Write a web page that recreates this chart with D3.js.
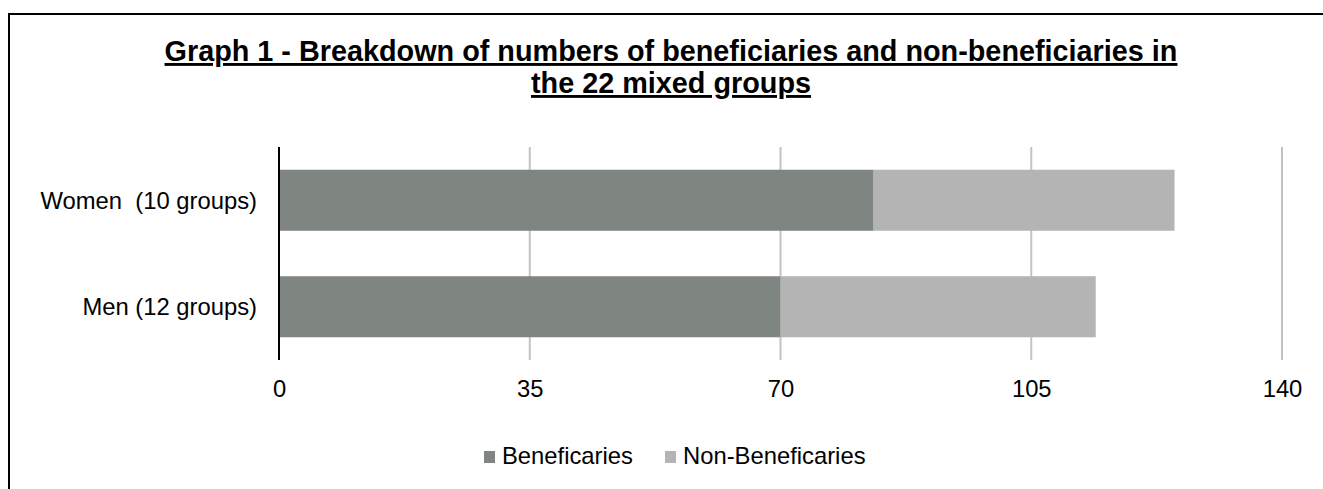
<!DOCTYPE html>
<html>
<head>
<meta charset="utf-8">
<script src="https://cdn.jsdelivr.net/npm/d3@7"></script>
<style>
  html, body { margin: 0; padding: 0; background: #ffffff; }
  svg { display: block; }
  text { font-family: "Liberation Sans", Arial, sans-serif; fill: #000; }
</style>
</head>
<body>
<svg id="chart" width="1323" height="489"></svg>
<script>
// Chart data
const titleLines = [
  "Graph 1 - Breakdown of numbers of beneficiaries and non-beneficiaries in",
  "the 22 mixed groups"
];
const categories = ["Women  (10 groups)", "Men (12 groups)"];
const seriesNames = ["Beneficaries", "Non-Beneficaries"];
const beneficiaries = [83, 70];
const nonBeneficiaries = [42, 44];
const tickValues = [0, 35, 70, 105, 140];
const seriesColors = ["#7f8682", "#b4b4b4"];

const svg = d3.select("#chart");
const W = 1323, H = 489;
const labelFont = "23.8px";

// Frame around the chart area
svg.append("rect")
  .attr("x", 9).attr("y", 14)
  .attr("width", W + 20).attr("height", H + 20)
  .attr("fill", "#fff")
  .attr("stroke", "#000")
  .attr("stroke-width", 2);

// Title
const title = svg.append("g");
titleLines.forEach((line, i) => {
  title.append("text")
    .attr("x", 671)
    .attr("y", 61 + i * 32)
    .attr("text-anchor", "middle")
    .style("font-size", "28.8px")
    .style("font-weight", "bold")
    .style("text-decoration", "underline")
    .text(line);
});

// Scales
const plot = { left: 279, right: 1282, top: 147, bottom: 360 };
const x = d3.scaleLinear().domain([0, 140]).range([plot.left, plot.right]);
const y = d3.scaleBand()
  .domain(categories)
  .range([plot.top, plot.bottom])
  .paddingInner(0.427)
  .paddingOuter(0.2135);

// Stack the two series
const rows = categories.map((c, i) => ({
  category: c,
  [seriesNames[0]]: beneficiaries[i],
  [seriesNames[1]]: nonBeneficiaries[i]
}));
const stacked = d3.stack().keys(seriesNames)(rows);

// Vertical gridlines
svg.append("g")
  .selectAll("line")
  .data(tickValues.filter(v => v > 0))
  .join("line")
  .attr("x1", d => x(d)).attr("x2", d => x(d))
  .attr("y1", plot.top).attr("y2", plot.bottom)
  .attr("stroke", "#c3c3c3")
  .attr("stroke-width", 2);

// Bars
svg.append("g")
  .selectAll("g")
  .data(stacked)
  .join("g")
  .attr("fill", (d, i) => seriesColors[i])
  .selectAll("rect")
  .data(d => d)
  .join("rect")
  .attr("x", d => x(d[0]))
  .attr("y", d => y(d.data.category))
  .attr("width", d => x(d[1]) - x(d[0]))
  .attr("height", y.bandwidth());

// Category axis line
svg.append("line")
  .attr("x1", x(0)).attr("x2", x(0))
  .attr("y1", plot.top).attr("y2", plot.bottom)
  .attr("stroke", "#000")
  .attr("stroke-width", 2);

// Value axis labels
const xAxis = d3.axisBottom(x).tickValues(tickValues).tickSize(0).tickPadding(0);
const xg = svg.append("g")
  .attr("transform", `translate(0, ${plot.bottom})`)
  .call(xAxis);
xg.select(".domain").remove();
xg.selectAll("text")
  .attr("dy", null)
  .attr("y", 36.5)
  .style("font-size", labelFont)
  .style("font-family", '"Liberation Sans", Arial, sans-serif')
  .attr("fill", "#000");

// Category labels
const yAxis = d3.axisLeft(y).tickSize(0).tickPadding(0);
const yg = svg.append("g")
  .attr("transform", `translate(257, 0)`)
  .call(yAxis);
yg.select(".domain").remove();
yg.selectAll("text")
  .attr("dy", null)
  .attr("y", 8.5)
  .attr("x", 0)
  .style("font-size", labelFont)
  .style("font-family", '"Liberation Sans", Arial, sans-serif')
  .style("white-space", "pre")
  .attr("fill", "#000");

// Legend
const legendX = [484, 665];
const legend = svg.append("g");
seriesNames.forEach((name, i) => {
  const g = legend.append("g").attr("transform", `translate(${legendX[i]}, 451)`);
  g.append("rect")
    .attr("width", 11).attr("height", 12)
    .attr("fill", seriesColors[i]);
  g.append("text")
    .attr("x", 18).attr("y", 13)
    .style("font-size", labelFont)
    .text(name);
});
</script>
</body>
</html>
